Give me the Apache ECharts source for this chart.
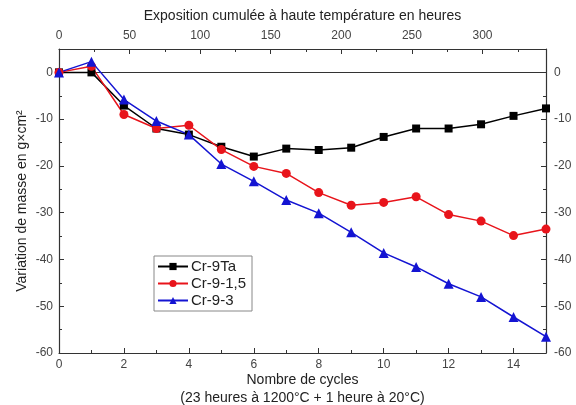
<!DOCTYPE html>
<html>
<head>
<meta charset="utf-8">
<script src="https://cdn.jsdelivr.net/npm/echarts@6/dist/echarts.min.js"></script>
<style>
  html, body { margin: 0; padding: 0; background: #fff; }
  #chart { width: 576px; height: 405px; }
</style>
</head>
<body>
<div id="chart"></div>
<script>
// données
const cycles = [0, 1, 2, 3, 4, 5, 6, 7, 8, 9, 10, 11, 12, 13, 14, 15]
const cr9Ta = [0, 0, -7.1, -12.0, -13.3, -15.9, -18.0, -16.3, -16.6, -16.1, -13.8, -12.0, -12.0, -11.1, -9.3, -7.7]
const cr915 = [0, 1.3, -9.0, -12.0, -11.3, -16.5, -20.1, -21.6, -25.7, -28.4, -27.8, -26.6, -30.4, -31.8, -34.9, -33.5]
const cr93 = [0, 2.3, -5.8, -10.4, -13.3, -19.6, -23.3, -27.3, -30.1, -34.2, -38.6, -41.6, -45.2, -48.0, -52.3, -56.5]
const heuresParCycle = 23

const chart = echarts.init(document.getElementById('chart'))

const font = 'Liberation Sans, Arial, sans-serif'
const axisColor = '#333'

const toPairs = (vals) => cycles.map((c, i) => [c, vals[i]])

const mkSeries = (name, vals, color, symbol, size) => ({
  name: name,
  type: 'line',
  data: toPairs(vals),
  symbol: symbol,
  symbolSize: size,
  itemStyle: { color: color },
  lineStyle: { color: color, width: 1.5 },
  z: 5
})

const option = {
  animation: false,
  grid: { left: 59, right: 30, top: 49, bottom: 52, outerBoundsMode: 'none' },
  legend: {
    orient: 'vertical',
    left: 154,
    top: 256,
    padding: [3, 6, 3, 3],
    itemGap: 2,
    itemWidth: 30,
    itemHeight: 9,
    borderColor: '#888',
    borderWidth: 1,
    textStyle: { fontFamily: font, fontSize: 15, color: '#222', padding: [0, 0, 0, -2] },
    data: ['Cr-9Ta', 'Cr-9-1,5', 'Cr-9-3']
  },
  xAxis: [
    {
      type: 'value',
      position: 'bottom',
      min: 0, max: 15, interval: 2,
      name: 'Nombre de cycles\n(23 heures à 1200°C + 1 heure à 20°C)',
      nameLocation: 'middle',
      nameGap: 18,
      nameMoveOverlap: false,
      nameTextStyle: { fontFamily: font, fontSize: 14, color: '#222', lineHeight: 18 },
      axisLine: { onZero: false, lineStyle: { color: axisColor, width: 1.2 } },
      axisTick: { inside: true, length: 5, lineStyle: { color: axisColor } },
      minorTick: { show: true, splitNumber: 2, length: 3, lineStyle: { color: axisColor } },
      axisLabel: { fontFamily: font, fontSize: 12, color: '#444', margin: 6, showMaxLabel: false },
      splitLine: { show: false }
    },
    {
      type: 'value',
      position: 'top',
      min: 0, max: 15 * heuresParCycle, interval: 50,
      name: 'Exposition cumulée à haute température en heures',
      nameLocation: 'middle',
      nameGap: 26,
      nameMoveOverlap: false,
      nameTextStyle: { fontFamily: font, fontSize: 14, color: '#222' },
      axisLine: { onZero: false, lineStyle: { color: axisColor, width: 1.2 } },
      axisTick: { inside: true, length: 5, lineStyle: { color: axisColor } },
      minorTick: { show: true, splitNumber: 2, length: 3, lineStyle: { color: axisColor } },
      axisLabel: { fontFamily: font, fontSize: 12, color: '#444', margin: 7, showMaxLabel: false },
      splitLine: { show: false }
    }
  ],
  yAxis: [
    {
      type: 'value',
      position: 'left',
      min: -60, max: 5, interval: 10,
      name: 'Variation de masse en g×cm²',
      nameLocation: 'middle',
      nameGap: 30,
      nameMoveOverlap: false,
      nameTextStyle: { fontFamily: font, fontSize: 14, color: '#222' },
      axisLine: { show: true, onZero: false, lineStyle: { color: axisColor, width: 1.2 } },
      axisTick: { inside: true, length: 5, lineStyle: { color: axisColor } },
      minorTick: { show: true, splitNumber: 2, length: 3, lineStyle: { color: axisColor } },
      axisLabel: { fontFamily: font, fontSize: 12, color: '#444', margin: 6, showMaxLabel: false },
      splitLine: { show: false }
    },
    {
      type: 'value',
      position: 'right',
      min: -60, max: 5, interval: 10,
      axisLine: { show: true, onZero: false, lineStyle: { color: axisColor, width: 1.2 } },
      axisTick: { inside: true, length: 5, lineStyle: { color: axisColor } },
      minorTick: { show: true, splitNumber: 2, length: 3, lineStyle: { color: axisColor } },
      axisLabel: { fontFamily: font, fontSize: 12, color: '#444', margin: 8, showMaxLabel: false },
      splitLine: { show: false }
    }
  ],
  series: [
    Object.assign(mkSeries('Cr-9Ta', cr9Ta, '#000000', 'rect', 8), {
      markLine: {
        silent: true,
        symbol: ['none', 'none'],
        label: { show: false },
        lineStyle: { color: '#333', width: 1.2, type: 'solid' },
        data: [{ yAxis: 0 }]
      }
    }),
    mkSeries('Cr-9-1,5', cr915, '#e8141b', 'circle', 9),
    mkSeries('Cr-9-3', cr93, '#1414d2', 'triangle', 10)
  ]
}

chart.setOption(option)
</script>
</body>
</html>
